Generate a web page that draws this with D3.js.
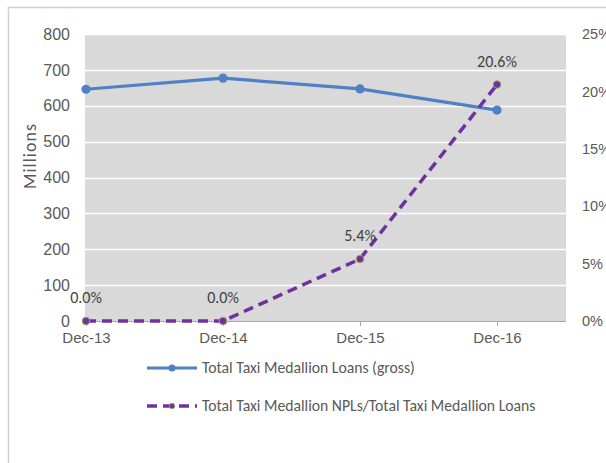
<!DOCTYPE html>
<html>
<head>
<meta charset="utf-8">
<script src="https://cdn.jsdelivr.net/npm/d3@7"></script>
<style>
  html, body { margin: 0; padding: 0; background: #fff; }
  svg { display: block; font-family: Calibri, Carlito, "Liberation Sans", "Open Sans", sans-serif; }
</style>
</head>
<body>
<svg id="chart" width="606" height="463"></svg>
<script>
// Taxi medallion loan book and NPL ratio, year-end snapshots
const categories = ["Dec-13", "Dec-14", "Dec-15", "Dec-16"];
const loansGross = [646, 677, 647, 588];           // millions
const nplRatio = [0.0, 0.0, 5.4, 20.6];            // percent
const leftTicks = [0, 100, 200, 300, 400, 500, 600, 700, 800];
const rightTicks = [0, 5, 10, 15, 20, 25];
const seriesNames = [
  "Total Taxi Medallion Loans (gross)",
  "Total Taxi Medallion NPLs/Total Taxi Medallion Loans"
];

const svg = d3.select("#chart");
const plot = { left: 85, right: 566, top: 34, bottom: 321 };

// outer chart frame
svg.append("path")
  .attr("d", "M8.5,463 V7.5 H606")
  .attr("fill", "none").attr("stroke", "#d0d0d0").attr("stroke-width", 1.5);

const x = d3.scalePoint().domain(categories).range([86, 86 + 137 * 3]);
const yL = d3.scaleLinear().domain([0, 800]).range([plot.bottom, plot.top]);
const yR = d3.scaleLinear().domain([0, 25]).range([plot.bottom, plot.top]);

// plot background
svg.append("rect")
  .attr("x", plot.left).attr("y", plot.top)
  .attr("width", plot.right - plot.left).attr("height", plot.bottom - plot.top)
  .attr("fill", "#d9d9d9");

// horizontal gridlines
svg.append("g").selectAll("line").data(leftTicks.filter(d => d > 0)).join("line")
  .attr("x1", plot.left).attr("x2", plot.right)
  .attr("y1", d => Math.round(yL(d)) + 0.5).attr("y2", d => Math.round(yL(d)) + 0.5)
  .attr("stroke", "#ffffff").attr("stroke-width", 1.5);

// left axis
const gL = svg.append("g").attr("transform", `translate(${plot.left},0)`)
  .call(d3.axisLeft(yL).tickValues(leftTicks).tickSize(0).tickPadding(15));
gL.select(".domain").remove();
gL.selectAll("text").attr("fill", "#595959").style("font-size", "16px");

// right axis
const gR = svg.append("g").attr("transform", `translate(${plot.right},0)`)
  .call(d3.axisRight(yR).tickValues(rightTicks).tickFormat(d => d + "%").tickSize(0).tickPadding(16));
gR.select(".domain").remove();
gR.selectAll("text").attr("fill", "#595959").style("font-size", "14.5px");

// bottom category axis
const gX = svg.append("g").attr("transform", `translate(0,${plot.bottom})`)
  .call(d3.axisBottom(x).tickSize(5).tickPadding(6));
gX.select(".domain").attr("d", `M${plot.left},0.5H${plot.right}`).attr("stroke", "#a6a6a6");
gX.selectAll(".tick line").attr("stroke", "#a6a6a6");
gX.selectAll("text").attr("fill", "#595959").style("font-size", "15px");

// axis title
svg.append("text")
  .attr("transform", "translate(36,156) rotate(-90)")
  .attr("text-anchor", "middle")
  .attr("fill", "#595959")
  .style("font-size", "18px")
  .style("letter-spacing", "1px")
  .text("Millions");

// loans line
const blue = "#4f81c4";
svg.append("path")
  .datum(loansGross)
  .attr("fill", "none").attr("stroke", blue).attr("stroke-width", 3.2)
  .attr("stroke-linejoin", "round")
  .attr("d", d3.line().x((d, i) => x(categories[i])).y(d => yL(d)));
svg.append("g").selectAll("circle").data(loansGross).join("circle")
  .attr("cx", (d, i) => x(categories[i])).attr("cy", d => yL(d))
  .attr("r", 4.6).attr("fill", blue);

// NPL ratio line
const purple = "#7030a0";
svg.append("path")
  .datum(nplRatio)
  .attr("fill", "none").attr("stroke", purple).attr("stroke-width", 3.5)
  .attr("stroke-dasharray", "10,6")
  .attr("d", d3.line().x((d, i) => x(categories[i])).y(d => yR(d)));
svg.append("g").selectAll("circle").data(nplRatio).join("circle")
  .attr("cx", (d, i) => x(categories[i])).attr("cy", d => yR(d))
  .attr("r", 3.8).attr("fill", purple).attr("stroke", "#9bab55").attr("stroke-width", 1);

// data labels
svg.append("g").selectAll("text").data(nplRatio).join("text")
  .attr("x", (d, i) => x(categories[i]))
  .attr("y", d => yR(d) - 18)
  .attr("text-anchor", "middle")
  .attr("fill", "#404040")
  .style("font-size", "16px")
  .text(d => d.toFixed(1) + "%");

// legend
const legend = svg.append("g");
const ly = [368, 406];
legend.append("line").attr("x1", 147).attr("x2", 197).attr("y1", ly[0]).attr("y2", ly[0])
  .attr("stroke", blue).attr("stroke-width", 3.2);
legend.append("circle").attr("cx", 172).attr("cy", ly[0]).attr("r", 3.5).attr("fill", blue);
legend.append("line").attr("x1", 147).attr("x2", 197).attr("y1", ly[1]).attr("y2", ly[1])
  .attr("stroke", purple).attr("stroke-width", 3.5).attr("stroke-dasharray", "10,6");
legend.append("circle").attr("cx", 172).attr("cy", ly[1]).attr("r", 2.8)
  .attr("fill", purple).attr("stroke", "#9bab55").attr("stroke-width", 0.8);
legend.selectAll("text.lbl").data(seriesNames).join("text")
  .attr("class", "lbl")
  .attr("x", 202).attr("y", (d, i) => ly[i] + 5)
  .attr("fill", "#595959")
  .style("font-size", "15.7px")
  .text(d => d);
</script>
</body>
</html>
